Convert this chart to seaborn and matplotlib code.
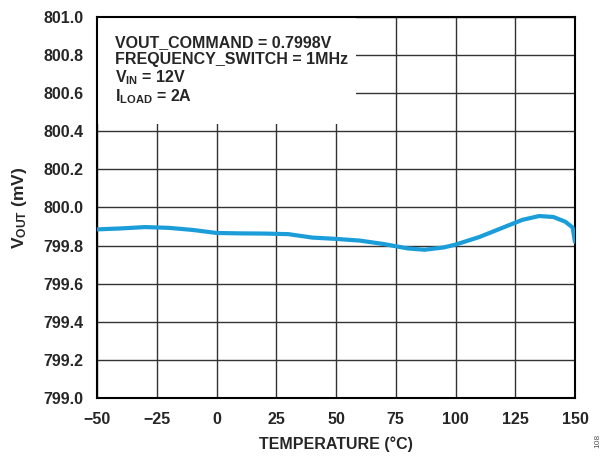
import matplotlib
matplotlib.use('Agg')
import pandas as pd
import matplotlib.pyplot as plt
import seaborn as sns

# Data
temperature = [-50, -40, -30, -20, -10, 0, 10, 20, 30, 40, 50, 60, 70, 80, 87,
               95, 100, 110, 120, 128, 135, 141, 146, 149, 150]
vout = [799.885, 799.890, 799.897, 799.893, 799.882, 799.866, 799.864, 799.863,
        799.860, 799.842, 799.835, 799.826, 799.808, 799.785, 799.778, 799.790,
        799.805, 799.845, 799.895, 799.935, 799.955, 799.950, 799.925, 799.895,
        799.820]
x_ticks = [-50, -25, 0, 25, 50, 75, 100, 125, 150]
x_tick_labels = ['\u221250', '\u221225', '0', '25', '50', '75', '100', '125', '150']
y_ticks = [799.0, 799.2, 799.4, 799.6, 799.8, 800.0, 800.2, 800.4, 800.6, 800.8, 801.0]
conditions = ['VOUT_COMMAND = 0.7998V', 'FREQUENCY_SWITCH = 1MHz',
              r'$\mathbf{V_{IN}}$ = 12V', r'$\mathbf{I_{LOAD}}$ = 2A']

df = pd.DataFrame({'Temperature': temperature, 'Vout': vout})

sns.set_style('white')
plt.rcParams['font.family'] = ['Liberation Sans', 'DejaVu Sans']
plt.rcParams['font.weight'] = 'bold'
plt.rcParams['mathtext.fontset'] = 'custom'
plt.rcParams['mathtext.rm'] = 'Liberation Sans:bold'
plt.rcParams['mathtext.bf'] = 'Liberation Sans:bold'
plt.rcParams['mathtext.it'] = 'Liberation Sans:bold'

fig = plt.figure(figsize=(6.11, 4.59), dpi=100)
ax = fig.add_axes([0.159, 0.133, 0.782, 0.830])

sns.lineplot(data=df, x='Temperature', y='Vout', ax=ax, color='#1a9dd8',
             linewidth=3.0, zorder=3)

ax.set_xlim(-50, 150)
ax.set_ylim(799.0, 801.0)
ax.set_xticks(x_ticks)
ax.set_xticklabels(x_tick_labels)
ax.set_yticks(y_ticks)
ax.set_yticklabels([f'{v:.1f}' for v in y_ticks])
ax.tick_params(axis='y', length=0, pad=10, labelsize=11.5)
ax.tick_params(axis='x', length=0, pad=10, labelsize=11.5)
ax.grid(True, color='#333333', linewidth=1.0)
ax.set_axisbelow(True)
for s in ax.spines.values():
    s.set_color('black')
    s.set_linewidth(1.5)

ax.set_xlabel('TEMPERATURE (°C)', fontsize=11.5, fontweight='bold', labelpad=7)
ax.set_ylabel(r'V$_{\mathbf{OUT}}$ (mV)', fontsize=12.5, fontweight='bold', labelpad=10)

# white box behind the conditions text
ax.add_patch(plt.Rectangle((-50, 800.44), 108.5, 0.56, facecolor='white',
                           edgecolor='none', zorder=2))
ys = [800.844, 800.752, 800.657, 800.557]
for txt, y in zip(conditions, ys):
    ax.text(-42.5, y, txt, fontsize=11.5, fontweight='bold', va='baseline',
            ha='left', zorder=4)

fig.text(0.978, 0.04, '108', rotation=90, fontsize=6, color='#555555',
         fontweight='normal', ha='center', va='center')

fig.savefig('out.png', dpi=100)
